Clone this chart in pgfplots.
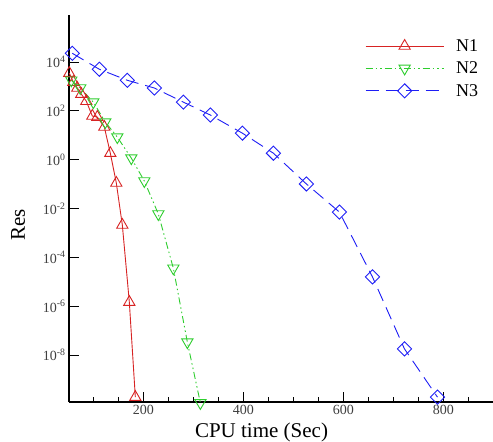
\documentclass[border=0pt]{standalone}
\usepackage{fontspec}
\setmainfont{Liberation Serif}
\usepackage{pgfplots}
\pgfplotsset{compat=1.18}
\definecolor{nred}{RGB}{215,35,35}
\definecolor{ngreen}{RGB}{45,205,45}
\definecolor{nblue}{RGB}{30,30,245}
\begin{document}
\begin{tikzpicture}
\begin{axis}[name=ax, scale only axis, width=424pt, height=387pt,
  ymode=log, xmin=51.4, xmax=899, ymin=1.2e-10, ymax=8.5e5,
  axis x line=bottom, axis y line=left,
  axis line style={-, line width=1.1pt, black},
  tick align=inside,
  xtick={200,400,600,800},
  minor xtick={100,150,250,300,350,450,500,550,650,700,750,850},
  ytick={1e-8,1e-6,1e-4,1e-2,1,1e2,1e4},
  yticklabels={10\textsuperscript{-8},10\textsuperscript{-6},10\textsuperscript{-4},10\textsuperscript{-2},10\textsuperscript{0},10\textsuperscript{2},10\textsuperscript{4}},
  yminorticks=false,
  major tick length=10pt, minor tick length=5pt,
  every tick/.style={line width=1.1pt, black},
  tick label style={font=\fontsize{14}{16}\selectfont, text=black!75},
  /pgf/number format/assume math mode=true,
  xlabel={CPU time (Sec)}, ylabel={Res},
  every axis x label/.style={at={(axis description cs:0.454,0)}, anchor=center, yshift=-30pt, font=\fontsize{21}{24}\selectfont},
  every axis y label/.style={at={(axis description cs:-0.1203,0.457)}, rotate=90, anchor=center, font=\fontsize{21}{24}\selectfont},
  clip=false,
  legend style={at={(axis description cs:0.691,0.948)}, anchor=north west, draw=none, fill=none,
    font=\fontsize{18}{20}\selectfont, row sep=5pt,
    /tikz/every odd column/.append style={column sep=10pt}},
  legend cell align=left,
  legend image code/.code={\draw[mark repeat=2, mark phase=2] plot coordinates {(0pt,0pt) (39pt,0pt) (78pt,0pt)};},
]
\addplot[nred, line width=0.9pt, mark=triangle, mark size=6.5pt, mark options={solid}] coordinates {
 (52,3.55e3) (60,1.51e3) (68,8.7e2) (76,4.9e2) (86,2.5e2) (98,62) (108,56) (122,22)
 (134,1.86) (146,0.112) (158,2.14e-3) (172,1.48e-6) (184,1.9e-10)};
\addlegendentry{N1}
\addplot[ngreen, line width=0.9pt, dash pattern=on 7pt off 3pt on 1.5pt off 3pt on 1.5pt off 3pt, mark=triangle, mark size=6.5pt, mark options={solid, rotate=180}] coordinates {
 (56,1.8e3) (74,8.7e2) (100,2.3e2) (124,35) (148,8.5) (176,1.17) (202,0.135) (230,6.0e-3)
 (260,3.6e-5) (288,3.4e-8) (314,1.1e-10)};
\addlegendentry{N2}
\addplot[nblue, line width=0.9pt, dash pattern=on 13pt off 7pt, mark=square, mark size=5pt, mark options={solid, rotate=45}] coordinates {
 (58,2.3e4) (112,5.1e3) (168,1.8e3) (222,8.7e2) (280,2.3e2) (334,68) (398,12.3) (460,1.86)
 (526,0.102) (592,7.2e-3) (658,1.6e-5) (722,1.8e-8) (788,1.9e-10)};
\addlegendentry{N3}
\end{axis}
\pgfresetboundingbox
\path[use as bounding box] ([xshift=-69pt,yshift=-39pt]ax.south west) rectangle ([yshift=15pt]ax.north east);
\end{tikzpicture}
\end{document}
